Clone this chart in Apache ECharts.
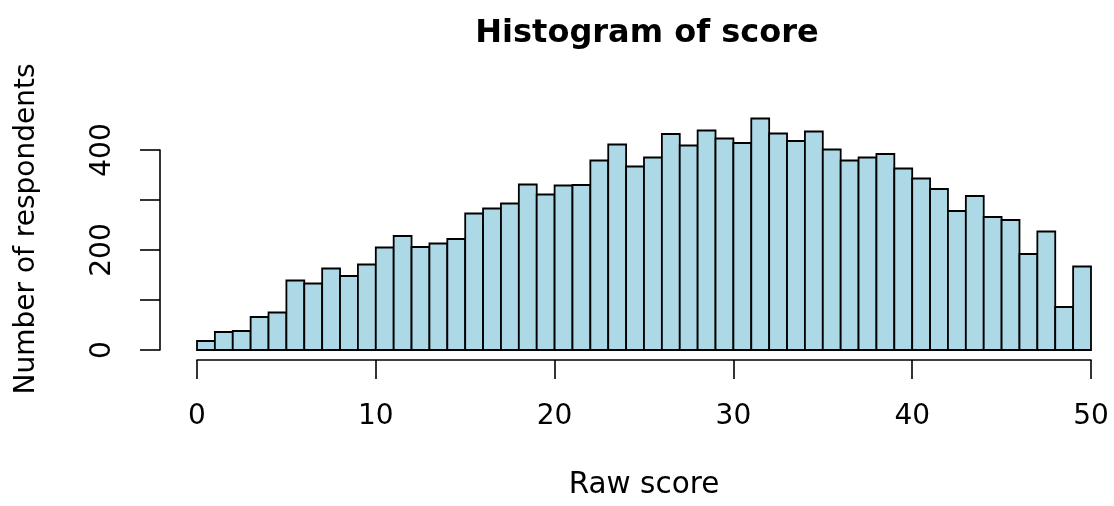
<!DOCTYPE html>
<html>
<head>
<meta charset="utf-8">
<script src="https://cdn.jsdelivr.net/npm/echarts@6/dist/echarts.min.js"></script>
<style>html,body{margin:0;padding:0;background:#fff}#c{width:1114px;height:506px}</style>
</head>
<body>
<div id="c"></div>
<script>
const titleText = 'Histogram of score';
const xAxisTitle = 'Raw score';
const yAxisTitle = 'Number of respondents';
const binStarts = [0,1,2,3,4,5,6,7,8,9,10,11,12,13,14,15,16,17,18,19,20,21,22,23,24,25,26,27,28,29,30,31,32,33,34,35,36,37,38,39,40,41,42,43,44,45,46,47,48,49];
const binEnds   = [1,2,3,4,5,6,7,8,9,10,11,12,13,14,15,16,17,18,19,20,21,22,23,24,25,26,27,28,29,30,31,32,33,34,35,36,37,38,39,40,41,42,43,44,45,46,47,48,49,50];
const counts = [18,36,38,66,75,139,133,163,148,171,205,228,206,213,222,273,283,293,331,311,329,330,379,411,367,385,432,409,439,423,414,463,433,418,437,401,379,385,392,363,343,322,278,308,266,260,192,237,86,167];
const yLabelsShown = [0, 200, 400];

const font = 'DejaVu Sans';
const chart = echarts.init(document.getElementById('c'), null, {renderer: 'canvas'});
const data = binStarts.map((s, i) => [s, binEnds[i], counts[i]]);

chart.setOption({
  animation: false,
  backgroundColor: '#ffffff',
  title: {
    text: titleText,
    left: 642,
    top: 13,
    textAlign: 'center',
    textStyle: {fontFamily: font, fontWeight: 'bold', fontSize: 32, color: '#000'}
  },
  grid: {left: 197, right: 23, top: 150, bottom: 156, containLabel: false},
  xAxis: {
    type: 'value', min: 0, max: 50, interval: 10,
    offset: 10,
    name: xAxisTitle, nameLocation: 'middle', nameGap: 110,
    nameTextStyle: {fontFamily: font, fontSize: 29.5, color: '#000'},
    axisLine: {show: true, onZero: false, lineStyle: {color: '#000', width: 1.6}},
    axisTick: {show: true, length: 19, lineStyle: {color: '#000', width: 1.6}},
    axisLabel: {margin: 43, fontFamily: font, fontSize: 28, color: '#000'},
    splitLine: {show: false}
  },
  yAxis: {
    type: 'value', min: 0, max: 400, interval: 100,
    offset: 37,
    name: yAxisTitle, nameLocation: 'middle', nameGap: 119,
    nameTextStyle: {fontFamily: font, fontSize: 28, color: '#000', padding: [0, 0, 0, 42]},
    axisLine: {show: true, onZero: false, lineStyle: {color: '#000', width: 1.6}},
    axisTick: {show: true, length: 20, lineStyle: {color: '#000', width: 1.6}},
    axisLabel: {
      margin: 43, rotate: 90, fontFamily: font, fontSize: 28, color: '#000',
      formatter: v => (yLabelsShown.indexOf(v) >= 0 ? String(v) : '')
    },
    splitLine: {show: false}
  },
  series: [{
    type: 'custom',
    clip: false,
    encode: {x: [0, 1], y: 2},
    data: data,
    renderItem: function (params, api) {
      const x0 = api.value(0), x1 = api.value(1), y = api.value(2);
      const p0 = api.coord([x0, y]);
      const p1 = api.coord([x1, 0]);
      return {
        type: 'rect',
        shape: {x: p0[0], y: p0[1], width: p1[0] - p0[0], height: p1[1] - p0[1]},
        style: {fill: '#ADD8E6', stroke: '#000', lineWidth: 1.8}
      };
    }
  }]
});
</script>
</body>
</html>
